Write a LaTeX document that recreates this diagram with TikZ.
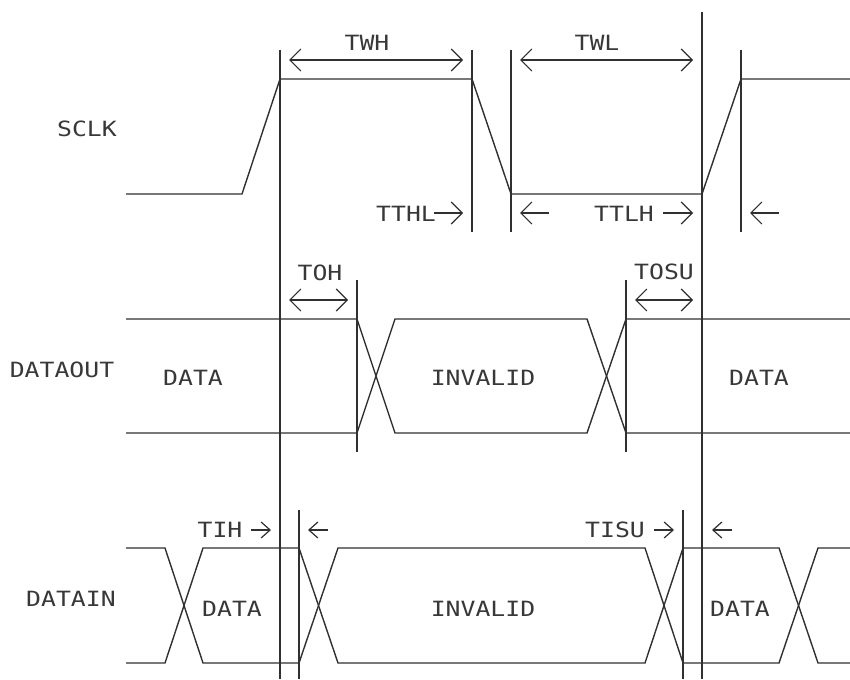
\documentclass[tikz,border=0pt]{standalone}
\usepackage{fontspec}
\newfontfamily\cadfont[FakeStretch=1.18]{DejaVu Sans Mono}
\usetikzlibrary{arrows.meta}
\definecolor{ink}{HTML}{303030}
\definecolor{textink}{HTML}{383838}
\tikzset{
  wave/.style={draw=ink, line width=1.4pt, line join=miter},
  guide/.style={draw=ink, line width=1.4pt},
  dimarrow/.style={draw=ink, line width=1.2pt, {Straight Barb[length=11pt,width=22pt]}-{Straight Barb[length=11pt,width=22pt]}},
  bigtip/.style={draw=ink, line width=1.2pt, -{Straight Barb[length=11pt,width=22pt]}},
  smalltip/.style={draw=ink, line width=1.2pt, -{Straight Barb[length=9pt,width=16pt]}},
  lbl/.style={text=textink, inner sep=0pt, font=\cadfont\fontsize{21}{24}\selectfont}
}
\begin{document}
\begin{tikzpicture}[x=1pt, y=-1pt]
\useasboundingbox (0,0) rectangle (850,679);
% guide lines
\draw[guide] (280,50) -- (280,679);
\draw[guide] (472,50) -- (472,232);
\draw[guide] (511,50) -- (511,232);
\draw[guide] (702,12) -- (702,679);
\draw[guide] (741,50) -- (741,232);
\draw[guide] (357,280) -- (357,452);
\draw[guide] (626,280) -- (626,452);
\draw[guide] (299,510) -- (299,679);
\draw[guide] (683,510) -- (683,679);
% SCLK
\draw[wave] (126,194) -- (242,194) -- (280,79) -- (472,79) -- (511,194) -- (702,194) -- (741,79) -- (850,79);
% DATAOUT
\draw[wave] (126,319) -- (357,319) -- (395,433) -- (587,433) -- (626,319) -- (850,319);
\draw[wave] (126,433) -- (357,433) -- (395,319) -- (587,319) -- (626,433) -- (850,433);
% DATAIN
\draw[wave] (126,548) -- (165,548) -- (203,663) -- (299,663) -- (338,548) -- (645,548) -- (683,663) -- (779,663) -- (818,548) -- (850,548);
\draw[wave] (126,663) -- (165,663) -- (203,548) -- (299,548) -- (338,663) -- (645,663) -- (683,548) -- (779,548) -- (818,663) -- (850,663);
% dimension arrows
\coordinate (twhA) at (289,60); \coordinate (twhB) at (463,60);
\draw[dimarrow] (twhA) -- (twhB);
\coordinate (twlA) at (520,60); \coordinate (twlB) at (693,60);
\draw[dimarrow] (twlA) -- (twlB);
\coordinate (tohA) at (289,300); \coordinate (tohB) at (348,300);
\draw[dimarrow] (tohA) -- (tohB);
\coordinate (tosuA) at (635,300); \coordinate (tosuB) at (693,300);
\draw[dimarrow] (tosuA) -- (tosuB);
% labels
\node[lbl] (sclk) at (87,129) {SCLK};
\node[lbl] (dataout) at (62,370) {DATAOUT};
\node[lbl] (datain) at (71,599) {DATAIN};
\node[lbl] (twh) at (367,43) {TWH};
\node[lbl] (twl) at (597,43) {TWL};
\node[lbl] (toh) at (320,273) {TOH};
\node[lbl] (tosu) at (664,272) {TOSU};
\node[lbl, anchor=west] (tthl) at (376,214) {TTHL};
\node[lbl] (ttlh) at (624,214) {TTLH};
\node[lbl] (tih) at (220,530) {TIH};
\node[lbl] (tisu) at (615,530) {TISU};
\node[lbl] (d1) at (193,378) {DATA};
\node[lbl] (inv1) at (483,378) {INVALID};
\node[lbl] (d2) at (759,378) {DATA};
\node[lbl] (d3) at (232,609) {DATA};
\node[lbl] (inv2) at (483,609) {INVALID};
\node[lbl] (d4) at (740,609) {DATA};
% small arrows
\coordinate (a1s) at (434,213); \coordinate (a1e) at (463,213);
\draw[bigtip] (a1s) -- (a1e);
\coordinate (a2s) at (549,213); \coordinate (a2e) at (520,213);
\draw[bigtip] (a2s) -- (a2e);
\coordinate (a3s) at (663,213); \coordinate (a3e) at (693,213);
\draw[bigtip] (a3s) -- (a3e);
\coordinate (a4s) at (779,213); \coordinate (a4e) at (750,213);
\draw[bigtip] (a4s) -- (a4e);
\coordinate (a5s) at (251,530); \coordinate (a5e) at (271,530);
\draw[smalltip] (a5s) -- (a5e);
\coordinate (a6s) at (328,530); \coordinate (a6e) at (308,530);
\draw[smalltip] (a6s) -- (a6e);
\coordinate (a7s) at (654,530); \coordinate (a7e) at (674,530);
\draw[smalltip] (a7s) -- (a7e);
\coordinate (a8s) at (732,530); \coordinate (a8e) at (712,530);
\draw[smalltip] (a8s) -- (a8e);
\end{tikzpicture}
\end{document}
